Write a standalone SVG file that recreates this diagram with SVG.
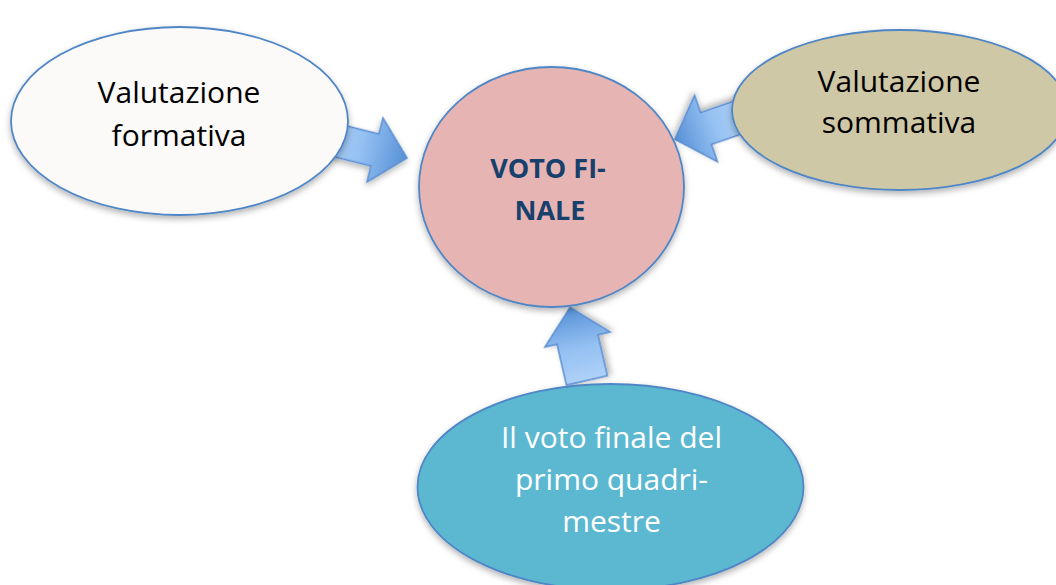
<svg xmlns="http://www.w3.org/2000/svg" width="1056" height="585" viewBox="0 0 1056 585">
<defs>
<linearGradient id="arrowGrad" x1="0" y1="0" x2="1" y2="0">
<stop offset="0" stop-color="#AED1F8"/>
<stop offset="0.45" stop-color="#94C0F2"/>
<stop offset="1" stop-color="#5690D6"/>
</linearGradient>
<filter id="shadow" x="-20%" y="-20%" width="140%" height="150%">
<feDropShadow dx="0" dy="3" stdDeviation="3" flood-color="#000" flood-opacity="0.3"/>
</filter>
</defs>
<style>
.node{stroke:#4F86C6;stroke-width:1.8;filter:url(#shadow)}
.arrow{fill:url(#arrowGrad);stroke:#5A8ED2;stroke-width:1.5;stroke-linejoin:miter;filter:url(#shadow)}
.txt{font-family:"Open Sans","Liberation Sans",sans-serif;font-size:30px;text-anchor:middle}
.bold{font-weight:bold;fill:#17406D;font-size:27px}
</style>
<rect width="1056" height="585" fill="#FFFFFF"/>
<g id="connectors">
<path class="arrow" transform="translate(375,150) rotate(14)" d="M-52,-16.5 L0,-16.5 L0,-33 L33,0 L0,33 L0,16.5 L-52,16.5 Z"/>
<path class="arrow" transform="translate(706,128.5) rotate(161)" d="M-40,-16.8 L0,-16.8 L0,-35 L33,0 L0,35 L0,16.8 L-40,16.8 Z"/>
<path class="arrow" transform="translate(577.5,339.5) rotate(-103)" d="M-42,-21 L0,-21 L0,-33.5 L33,0 L0,33.5 L0,21 L-42,21 Z"/>
</g>
<g id="node-formativa">
<ellipse class="node" cx="179.5" cy="121" rx="168.5" ry="94" fill="#FBFAF9"/>
<text class="txt" x="179" y="103" fill="#000">Valutazione</text>
<text class="txt" x="179" y="146" fill="#000">formativa</text>
</g>
<g id="node-sommativa">
<ellipse class="node" cx="900" cy="110" rx="168" ry="80" fill="#CFC8A6"/>
<text class="txt" x="899" y="92" fill="#000">Valutazione</text>
<text class="txt" x="899" y="133" fill="#000">sommativa</text>
</g>
<g id="node-voto-finale">
<ellipse class="node" cx="551.5" cy="187" rx="132.5" ry="120" fill="#E6B5B3"/>
<text class="txt bold" x="548" y="178">VOTO FI-</text>
<text class="txt bold" x="550" y="220">NALE</text>
</g>
<g id="node-primo-quadrimestre">
<ellipse class="node" cx="610.5" cy="487" rx="193" ry="103" fill="#5BB8D1"/>
<text class="txt" x="611.5" y="448" fill="#FFFFFF">Il voto finale del</text>
<text class="txt" x="611.5" y="490" fill="#FFFFFF">primo quadri-</text>
<text class="txt" x="611.5" y="532" fill="#FFFFFF">mestre</text>
</g>
</svg>
